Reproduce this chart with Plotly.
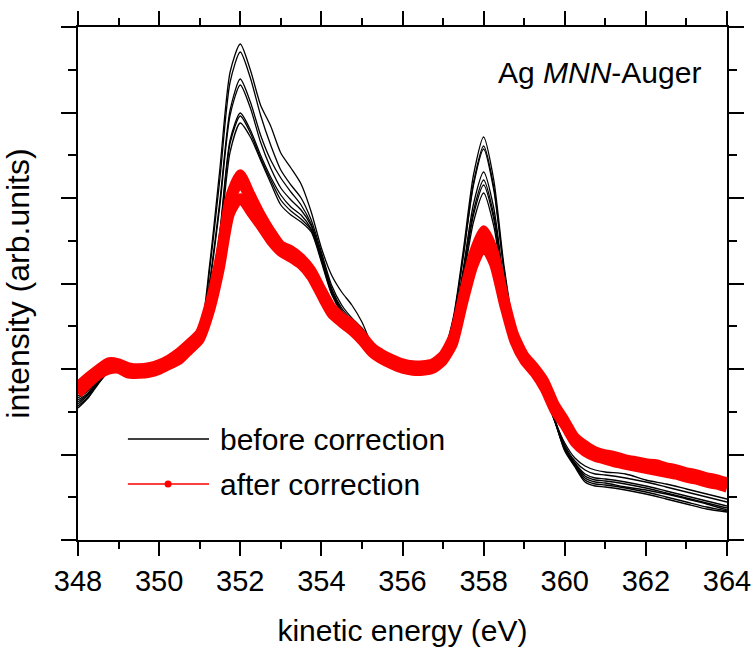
import plotly.graph_objects as go

# ---------------- data (intensity in arbitrary units) ----------------
energy_black = [348.0, 348.25, 348.5, 348.75, 349.0, 349.5, 350.0, 350.5, 350.75,
                351.0, 351.25, 351.5, 351.75, 352.0, 352.25, 352.5, 352.75,
                353.0, 353.25, 353.5, 353.75, 354.0, 354.25, 354.5, 354.75,
                355.0, 355.25, 355.5, 355.75, 356.0, 356.5,
                357.0, 357.25, 357.5, 357.75, 358.0, 358.25, 358.5, 358.75,
                359.0, 359.25, 359.5, 359.75, 360.0, 360.25, 360.5, 360.75,
                361.0, 361.5, 362.0, 362.5, 363.0, 363.5, 364.0]

before_1 = [136, 145, 158, 169, 173, 169, 173, 185, 197, 207, 277, 372, 468, 496, 470, 435, 414,
            387, 372, 356, 328, 292, 265, 248, 235, 218, 195, 183, 178, 174, 172,
            188, 222, 290, 365, 403, 360, 275, 213, 188, 170, 148, 120, 91, 75, 62, 58,
            57, 53, 50, 46, 41, 36, 30]
before_2 = [140, 147, 159, 170, 173, 169, 173, 185, 196, 203, 272, 362, 458, 488, 462, 425, 395,
            370, 355, 342, 320, 288, 255, 235, 222, 212, 197, 183, 178, 174, 172,
            187, 220, 285, 357, 394, 353, 271, 212, 187, 169, 147, 119, 97, 82, 74, 70,
            68, 66, 60, 56, 51, 46, 41]
before_3 = [134, 143, 157, 168, 173, 169, 173, 185, 196, 202, 260, 340, 430, 461, 438, 405, 380,
            362, 348, 335, 316, 285, 252, 232, 220, 210, 197, 183, 178, 174, 172,
            187, 219, 284, 355, 391, 350, 270, 211, 188, 170, 148, 121, 95, 79, 70, 66,
            65, 62, 58, 53, 48, 43, 38]
before_4 = [142, 149, 160, 170, 173, 169, 173, 185, 196, 202, 257, 335, 425, 455, 432, 398, 372,
            352, 340, 330, 314, 283, 250, 230, 218, 209, 196, 183, 178, 174, 172,
            186, 214, 272, 336, 368, 332, 259, 207, 188, 170, 148, 120, 93, 77, 66, 62,
            61, 58, 54, 49, 44, 39, 34]
before_5 = [138, 146, 158, 169, 173, 169, 173, 185, 195, 201, 245, 310, 400, 427, 410, 385, 363,
            345, 333, 325, 311, 281, 248, 229, 217, 209, 196, 183, 178, 174, 172,
            185, 213, 268, 329, 360, 325, 256, 206, 188, 170, 148, 120, 92, 76, 64, 60,
            59, 56, 52, 47, 42, 37, 32]
before_6 = [132, 142, 156, 168, 173, 169, 173, 185, 195, 201, 243, 307, 397, 424, 407, 382, 360,
            340, 329, 321, 310, 280, 247, 228, 216, 208, 196, 183, 178, 174, 172,
            185, 212, 265, 325, 355, 321, 254, 205, 187, 170, 148, 119, 90, 74, 60, 56,
            55, 52, 48, 43, 38, 33, 29]
before_7 = [144, 150, 160, 170, 173, 169, 173, 185, 194, 200, 240, 300, 388, 417, 403, 380, 357,
            335, 325, 318, 308, 278, 246, 227, 215, 208, 197, 183, 178, 174, 172,
            184, 210, 261, 318, 347, 314, 250, 204, 187, 170, 148, 120, 89, 73, 58, 54,
            53, 50, 46, 41, 36, 31, 28]

energy_red = [348.0, 348.25, 348.5, 348.75, 349.0, 349.25, 349.5, 349.75,
              350.0, 350.25, 350.5, 350.75, 351.0, 351.25, 351.5, 351.75,
              352.0, 352.25, 352.5, 352.75, 353.0, 353.25, 353.5, 353.75,
              354.0, 354.25, 354.5, 354.75, 355.0, 355.25, 355.5, 355.75,
              356.0, 356.25, 356.5, 356.75, 357.0, 357.25, 357.5, 357.75,
              358.0, 358.25, 358.5, 358.75, 359.0, 359.25, 359.5, 359.75,
              360.0, 360.25, 360.5, 360.75, 361.0, 361.25, 361.5, 361.75,
              362.0, 362.25, 362.5, 362.75, 363.0, 363.25, 363.5, 363.75, 364.0]

after_mid = [150, 160, 168, 174, 174, 170, 169, 170, 173, 178, 184, 194, 204, 233, 278, 338,
             358, 340, 322, 305, 292, 286, 279, 267, 248, 230, 220, 212, 202, 190, 183, 178,
             174, 172, 172, 174, 182, 200, 242, 282, 304, 284, 240, 202, 182, 170, 155, 132,
             117, 100, 91, 86, 83, 80, 78, 76, 74, 72, 70, 68, 65, 63, 60, 58, 55]
after_hi = [154, 163, 171, 178, 177, 173, 172, 173, 176, 181, 188, 197, 207, 238, 284, 344,
            366, 346, 326, 309, 295, 290, 282, 270, 251, 233, 223, 216, 205, 193, 186, 181,
            177, 175, 175, 177, 185, 204, 246, 287, 310, 289, 244, 206, 185, 173, 159, 136,
            120, 103, 95, 89, 86, 84, 81, 79, 77, 76, 73, 71, 68, 66, 63, 61, 58]
after_lo = [146, 156, 165, 170, 171, 166, 166, 167, 170, 175, 180, 190, 200, 228, 271, 326,
            342, 328, 314, 299, 288, 282, 275, 263, 244, 226, 217, 209, 199, 187, 180, 175,
            171, 169, 169, 171, 179, 196, 237, 274, 294, 276, 235, 199, 179, 167, 151, 129,
            114, 97, 88, 83, 80, 77, 75, 73, 71, 69, 67, 65, 62, 60, 57, 55, 52]

x_ticks = [348, 350, 352, 354, 356, 358, 360, 362, 364]

RED = "#ff0000"
FONT = "Arial, Liberation Sans, Helvetica, sans-serif"

fig = go.Figure()

for k, yb in enumerate([before_1, before_2, before_3, before_4, before_5, before_6, before_7]):
    fig.add_trace(go.Scatter(
        x=energy_black, y=yb, mode="lines",
        line=dict(color="black", width=1.3, shape="spline", smoothing=0.7),
        name="before correction", legendgroup="before", showlegend=False))

for yr in [after_lo, after_hi, after_mid]:
    fig.add_trace(go.Scatter(
        x=energy_red, y=yr, mode="lines",
        line=dict(color=RED, width=9.5, shape="spline", smoothing=0.6),
        name="after correction", legendgroup="after", showlegend=False))

axis_common = dict(
    showline=True, linewidth=2, linecolor="black", mirror="allticks",
    ticks="outside", tickwidth=2, tickcolor="black",
    showgrid=False, zeroline=False, automargin=False,
)

fig.update_xaxes(
    range=[348, 364], tickmode="array", tickvals=x_ticks,
    ticktext=[str(v) for v in x_ticks], ticklen=14,
    tickfont=dict(size=29, family=FONT, color="black"),
    minor=dict(dtick=1, tick0=348, ticks="outside", ticklen=7, tickwidth=2,
               tickcolor="black", showgrid=False),
    title=dict(text="kinetic energy (eV)", font=dict(size=30, family=FONT, color="black")),
    **axis_common)

fig.update_yaxes(
    range=[0, 513], tick0=0, dtick=85.5, ticklen=15, showticklabels=False,
    minor=dict(dtick=42.75, tick0=0, ticks="outside", ticklen=8, tickwidth=2,
               tickcolor="black", showgrid=False),
    title=dict(text="intensity (arb.units)", font=dict(size=32, family=FONT, color="black")),
    **axis_common)

# manual legend (long sample lines like the original)
shapes = [
    dict(type="line", xref="x", yref="y", x0=349.23, x1=351.23, y0=101, y1=101,
         line=dict(color="black", width=1.5)),
    dict(type="line", xref="x", yref="y", x0=349.23, x1=351.23, y0=56, y1=56,
         line=dict(color="#ff4040", width=2)),
    dict(type="circle", xref="x", yref="y", xsizemode="pixel", ysizemode="pixel",
         xanchor=350.22, yanchor=56, x0=-3.5, x1=3.5, y0=-3.5, y1=3.5,
         fillcolor=RED, line=dict(color=RED, width=0)),
]
annotations = [
    dict(text="before correction", xref="x", yref="y", x=351.45, y=101,
         xanchor="left", yanchor="middle", showarrow=False,
         font=dict(size=30, family=FONT, color="black")),
    dict(text="after correction", xref="x", yref="y", x=351.45, y=56,
         xanchor="left", yanchor="middle", showarrow=False,
         font=dict(size=30, family=FONT, color="black")),
    dict(text="Ag <i>MNN</i>-Auger", xref="paper", yref="paper", x=0.963, y=0.912,
         xanchor="right", yanchor="middle", showarrow=False,
         font=dict(size=30, family=FONT, color="black")),
]

fig.update_layout(
    template="none",
    width=753, height=648,
    margin=dict(l=78, r=26, t=27, b=108),
    plot_bgcolor="white", paper_bgcolor="white",
    font=dict(family=FONT, size=28, color="black"),
    showlegend=False,
    shapes=shapes, annotations=annotations,
)

fig.write_html("out.html")
